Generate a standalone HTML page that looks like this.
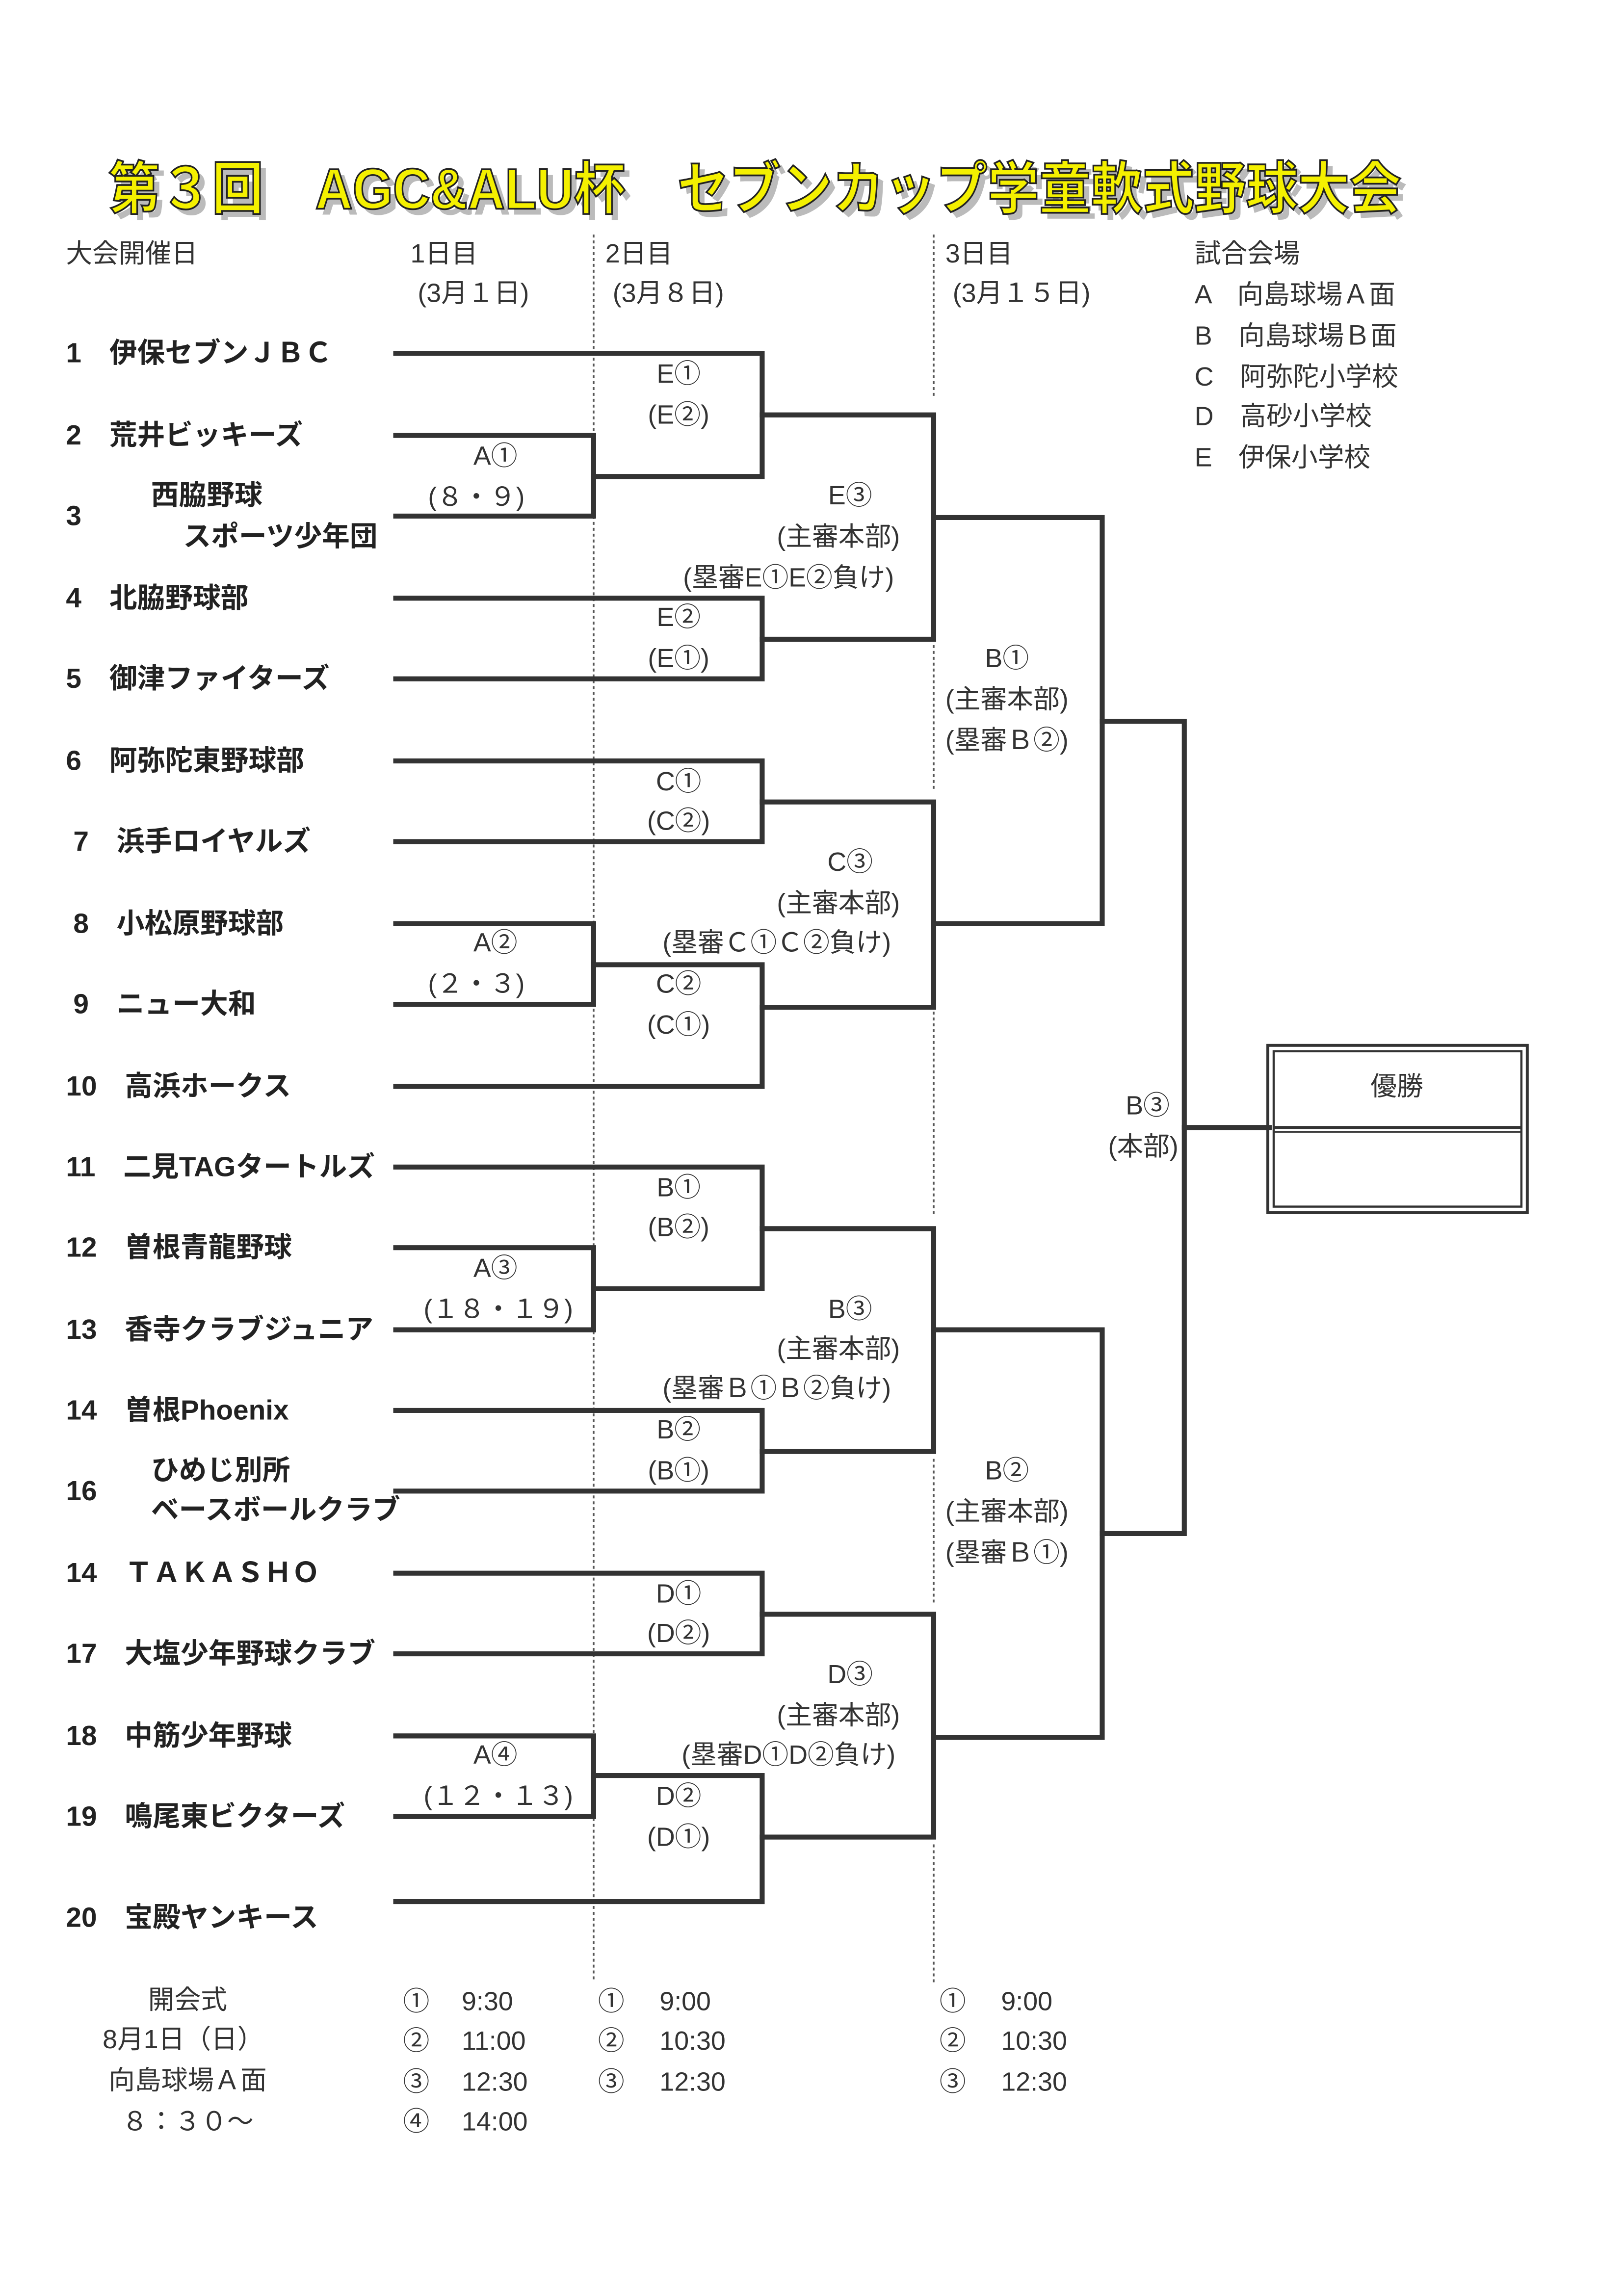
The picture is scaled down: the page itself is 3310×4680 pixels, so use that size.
<!DOCTYPE html>
<html><head><meta charset="utf-8"><style>
html,body{margin:0;padding:0;background:#fff;}
svg{display:block;}
text{font-family:"Liberation Sans","Noto Sans CJK JP",sans-serif;fill:#333;dominant-baseline:central;}
.t{font-weight:bold;font-size:19px;fill:#222;}
.l{font-size:18px;}
</style></head><body>
<svg width="3310" height="4680" viewBox="0 0 1108 1566" preserveAspectRatio="none" xmlns="http://www.w3.org/2000/svg">
<rect width="1108" height="1566" fill="#fff"/>
<!-- title -->
<text x="78" y="133" font-size="39" font-weight="bold" style="fill:#bbb" textLength="882" lengthAdjust="spacingAndGlyphs">第３回　AGC&amp;ALU杯　セブンカップ学童軟式野球大会</text>
<text x="74" y="129" font-size="39" font-weight="bold" style="fill:#f4f000;stroke:#222;stroke-width:1.2" textLength="882" lengthAdjust="spacingAndGlyphs">第３回　AGC&amp;ALU杯　セブンカップ学童軟式野球大会</text>
<!-- dotted -->
<g stroke="#555" stroke-width="1.2" stroke-dasharray="2,2">
<line x1="405" y1="160" x2="405" y2="1352"/>
<line x1="637" y1="160" x2="637" y2="270"/>
<line x1="637" y1="440" x2="637" y2="540"/>
<line x1="637" y1="690" x2="637" y2="830"/>
<line x1="637" y1="995" x2="637" y2="1095"/>
<line x1="637" y1="1258" x2="637" y2="1352"/>
</g>
<!-- headers -->
<g class="l">
<text x="45" y="173" class="l">大会開催日</text>
<text x="280" y="173" class="l">1日目</text>
<text x="285" y="200" class="l">(3月１日)</text>
<text x="413" y="173" class="l">2日目</text>
<text x="418" y="200" class="l">(3月８日)</text>
<text x="645" y="173" class="l">3日目</text>
<text x="650" y="200" class="l">(3月１５日)</text>
<text x="815" y="173" class="l">試合会場</text>
<text x="815" y="201" class="l">A　向島球場Ａ面</text>
<text x="815" y="229" class="l">B　向島球場Ｂ面</text>
<text x="815" y="257" class="l">C　阿弥陀小学校</text>
<text x="815" y="284" class="l">D　高砂小学校</text>
<text x="815" y="312" class="l">E　伊保小学校</text>
</g>
<!-- teams -->
<g>
<text class="t" x="45" y="241">1　伊保セブンＪＢＣ</text>
<text class="t" x="45" y="297">2　荒井ビッキーズ</text>
<text class="t" x="45" y="352">3</text>
<text class="t" x="103" y="338">西脇野球</text>
<text class="t" x="125" y="366">スポーツ少年団</text>
<text class="t" x="45" y="408">4　北脇野球部</text>
<text class="t" x="45" y="463">5　御津ファイターズ</text>
<text class="t" x="45" y="519">6　阿弥陀東野球部</text>
<text class="t" x="50" y="574">7　浜手ロイヤルズ</text>
<text class="t" x="50" y="630">8　小松原野球部</text>
<text class="t" x="50" y="685">9　ニュー大和</text>
<text class="t" x="45" y="741">10　高浜ホークス</text>
<text class="t" x="45" y="796" font-size="17">11　二見TAGタートルズ</text>
<text class="t" x="45" y="851">12　曽根青龍野球</text>
<text class="t" x="45" y="907" font-size="17">13　香寺クラブジュニア</text>
<text class="t" x="45" y="962">14　曽根Phoenix</text>
<text class="t" x="45" y="1017">16</text>
<text class="t" x="103" y="1003">ひめじ別所</text>
<text class="t" x="103" y="1030" font-size="17">ベースボールクラブ</text>
<text class="t" x="45" y="1073">14　ＴＡＫＡＳＨＯ</text>
<text class="t" x="45" y="1128" font-size="17">17　大塩少年野球クラブ</text>
<text class="t" x="45" y="1184">18　中筋少年野球</text>
<text class="t" x="45" y="1239">19　鳴尾東ビクターズ</text>
<text class="t" x="45" y="1308">20　宝殿ヤンキース</text>
</g>
<!-- bracket -->
<g stroke="#333" stroke-width="3.4" fill="none" stroke-linejoin="miter" stroke-linecap="square">
<polyline points="270,241 520,241 520,325 405,325"/>
<polyline points="270,297 405,297 405,352 270,352"/>
<polyline points="270,408 520,408 520,463 270,463"/>
<polyline points="520,283 637,283 637,436 520,436"/>
<polyline points="637,353 752,353 752,630 637,630"/>
<polyline points="270,519 520,519 520,574 270,574"/>
<polyline points="270,630 405,630 405,685 270,685"/>
<polyline points="405,658 520,658 520,741 270,741"/>
<polyline points="520,547 637,547 637,687 520,687"/>
<polyline points="752,492 808,492 808,1046 752,1046"/>
<line x1="808" y1="769" x2="866" y2="769"/>
<polyline points="270,796 520,796 520,879 405,879"/>
<polyline points="270,851 405,851 405,907 270,907"/>
<polyline points="270,962 520,962 520,1017 270,1017"/>
<polyline points="520,838 637,838 637,990 520,990"/>
<polyline points="637,907 752,907 752,1185 637,1185"/>
<polyline points="270,1073 520,1073 520,1128 270,1128"/>
<polyline points="270,1184 405,1184 405,1239 270,1239"/>
<polyline points="405,1211 520,1211 520,1297 270,1297"/>
<polyline points="520,1101 637,1101 637,1253 520,1253"/>
</g>
<!-- champion box -->
<g stroke="#333" fill="none">
<rect x="865" y="713" width="177" height="114" stroke-width="2"/>
<rect x="869" y="717" width="169" height="106" stroke-width="1.5"/>
<line x1="869" y1="769" x2="1038" y2="769" stroke-width="2"/>
<line x1="869" y1="772" x2="1038" y2="772" stroke-width="1.2"/>
</g>
<text class="l" x="953" y="741" text-anchor="middle">優勝</text>
<!-- labels -->
<g class="l" text-anchor="middle">
<text x="463" y="255">E①</text><text x="463" y="283">(E②)</text>
<text x="338" y="311">A①</text><text x="325" y="339">(８・９)</text>
<text x="580" y="338">E③</text><text x="572" y="366">(主審本部)</text>
<text x="538" y="394">(塁審E①E②負け)</text>
<text x="463" y="421">E②</text><text x="463" y="449">(E①)</text>
<text x="687" y="449">B①</text><text x="687" y="477">(主審本部)</text><text x="687" y="505">(塁審Ｂ②)</text>
<text x="463" y="533">C①</text><text x="463" y="560">(C②)</text>
<text x="580" y="588">C③</text><text x="572" y="616">(主審本部)</text>
<text x="530" y="643">(塁審Ｃ①Ｃ②負け)</text>
<text x="338" y="643">A②</text><text x="325" y="671">(２・３)</text>
<text x="463" y="671">C②</text><text x="463" y="699">(C①)</text>
<text x="783" y="754">B③</text><text x="780" y="782">(本部)</text>
<text x="463" y="810">B①</text><text x="463" y="837">(B②)</text>
<text x="338" y="865">A③</text><text x="340" y="893">(１８・１９)</text>
<text x="580" y="893">B③</text><text x="572" y="920">(主審本部)</text>
<text x="530" y="947">(塁審Ｂ①Ｂ②負け)</text>
<text x="463" y="975">B②</text><text x="463" y="1003">(B①)</text>
<text x="687" y="1003">B②</text><text x="687" y="1031">(主審本部)</text><text x="687" y="1059">(塁審Ｂ①)</text>
<text x="463" y="1087">D①</text><text x="463" y="1114">(D②)</text>
<text x="580" y="1142">D③</text><text x="572" y="1170">(主審本部)</text>
<text x="538" y="1197">(塁審D①D②負け)</text>
<text x="338" y="1197">A④</text><text x="340" y="1225">(１２・１３)</text>
<text x="463" y="1225">D②</text><text x="463" y="1253">(D①)</text>
<text x="128" y="1364">開会式</text>
<text x="125" y="1391">8月1日（日）</text>
<text x="128" y="1419">向島球場Ａ面</text>
<text x="128" y="1447">８：３０～</text>
</g>
<g class="l">
<text x="275" y="1365">①</text><text x="315" y="1365">9:30</text>
<text x="275" y="1392">②</text><text x="315" y="1392">11:00</text>
<text x="275" y="1420">③</text><text x="315" y="1420">12:30</text>
<text x="275" y="1447">④</text><text x="315" y="1447">14:00</text>
<text x="408" y="1365">①</text><text x="450" y="1365">9:00</text>
<text x="408" y="1392">②</text><text x="450" y="1392">10:30</text>
<text x="408" y="1420">③</text><text x="450" y="1420">12:30</text>
<text x="641" y="1365">①</text><text x="683" y="1365">9:00</text>
<text x="641" y="1392">②</text><text x="683" y="1392">10:30</text>
<text x="641" y="1420">③</text><text x="683" y="1420">12:30</text>
</g>
</svg>
</body></html>
